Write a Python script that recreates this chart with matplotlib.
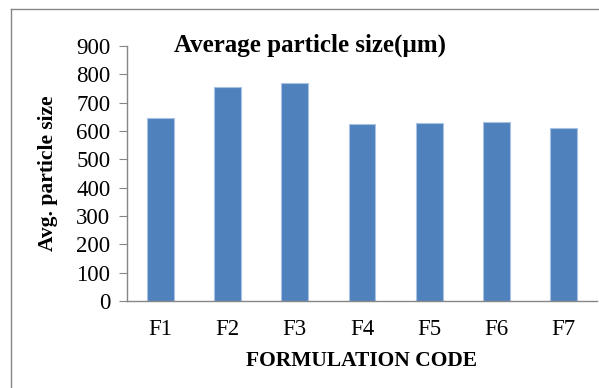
import matplotlib
matplotlib.use("Agg")
import matplotlib.pyplot as plt
from matplotlib.lines import Line2D

# data
codes = ["F1", "F2", "F3", "F4", "F5", "F6", "F7"]
sizes = [647, 756, 768, 625, 627, 632, 610]
yticks = [0, 100, 200, 300, 400, 500, 600, 700, 800, 900]

plt.rcParams["font.family"] = ["Liberation Serif", "DejaVu Serif"]

fig = plt.figure(figsize=(5.99, 3.88), dpi=100)
ax = fig.add_axes([127 / 599, 1 - 301 / 388, 470 / 599, 255 / 388])

ax.bar(codes, sizes, width=0.4, color="#4f81bd", edgecolor="#a9c2e2", linewidth=0.8)
ax.set_xlim(-0.5, len(codes) - 0.5)
ax.set_ylim(0, 900)
ax.set_yticks(yticks)

for s in ["top", "right"]:
    ax.spines[s].set_visible(False)
for s in ["left", "bottom"]:
    ax.spines[s].set_color("#868686")
    ax.spines[s].set_linewidth(1.0)

ax.tick_params(axis="y", direction="out", length=6, color="#868686", labelsize=16.5, pad=6)
ax.tick_params(axis="x", length=0, labelsize=16.5, pad=13)

ax.set_xlabel("FORMULATION CODE", fontsize=15.5, fontweight="bold", labelpad=8)
ax.set_ylabel("Avg. particle size", fontsize=15.5, fontweight="bold", labelpad=13)

fig.text(310 / 599, 1 - 45 / 388, "Average particle size(µm)", ha="center", va="center",
         fontsize=18, fontweight="bold")

# partial frame (top and left edges only, cropped on the other sides)
x0, y1 = 11 / 599, 1 - 9 / 388
fig.lines.append(Line2D([x0, 1.0], [y1, y1], transform=fig.transFigure,
                        color="#868686", linewidth=1.0))
fig.lines.append(Line2D([x0, x0], [0, y1], transform=fig.transFigure,
                        color="#868686", linewidth=1.0))

fig.savefig("out.png", dpi=100)
